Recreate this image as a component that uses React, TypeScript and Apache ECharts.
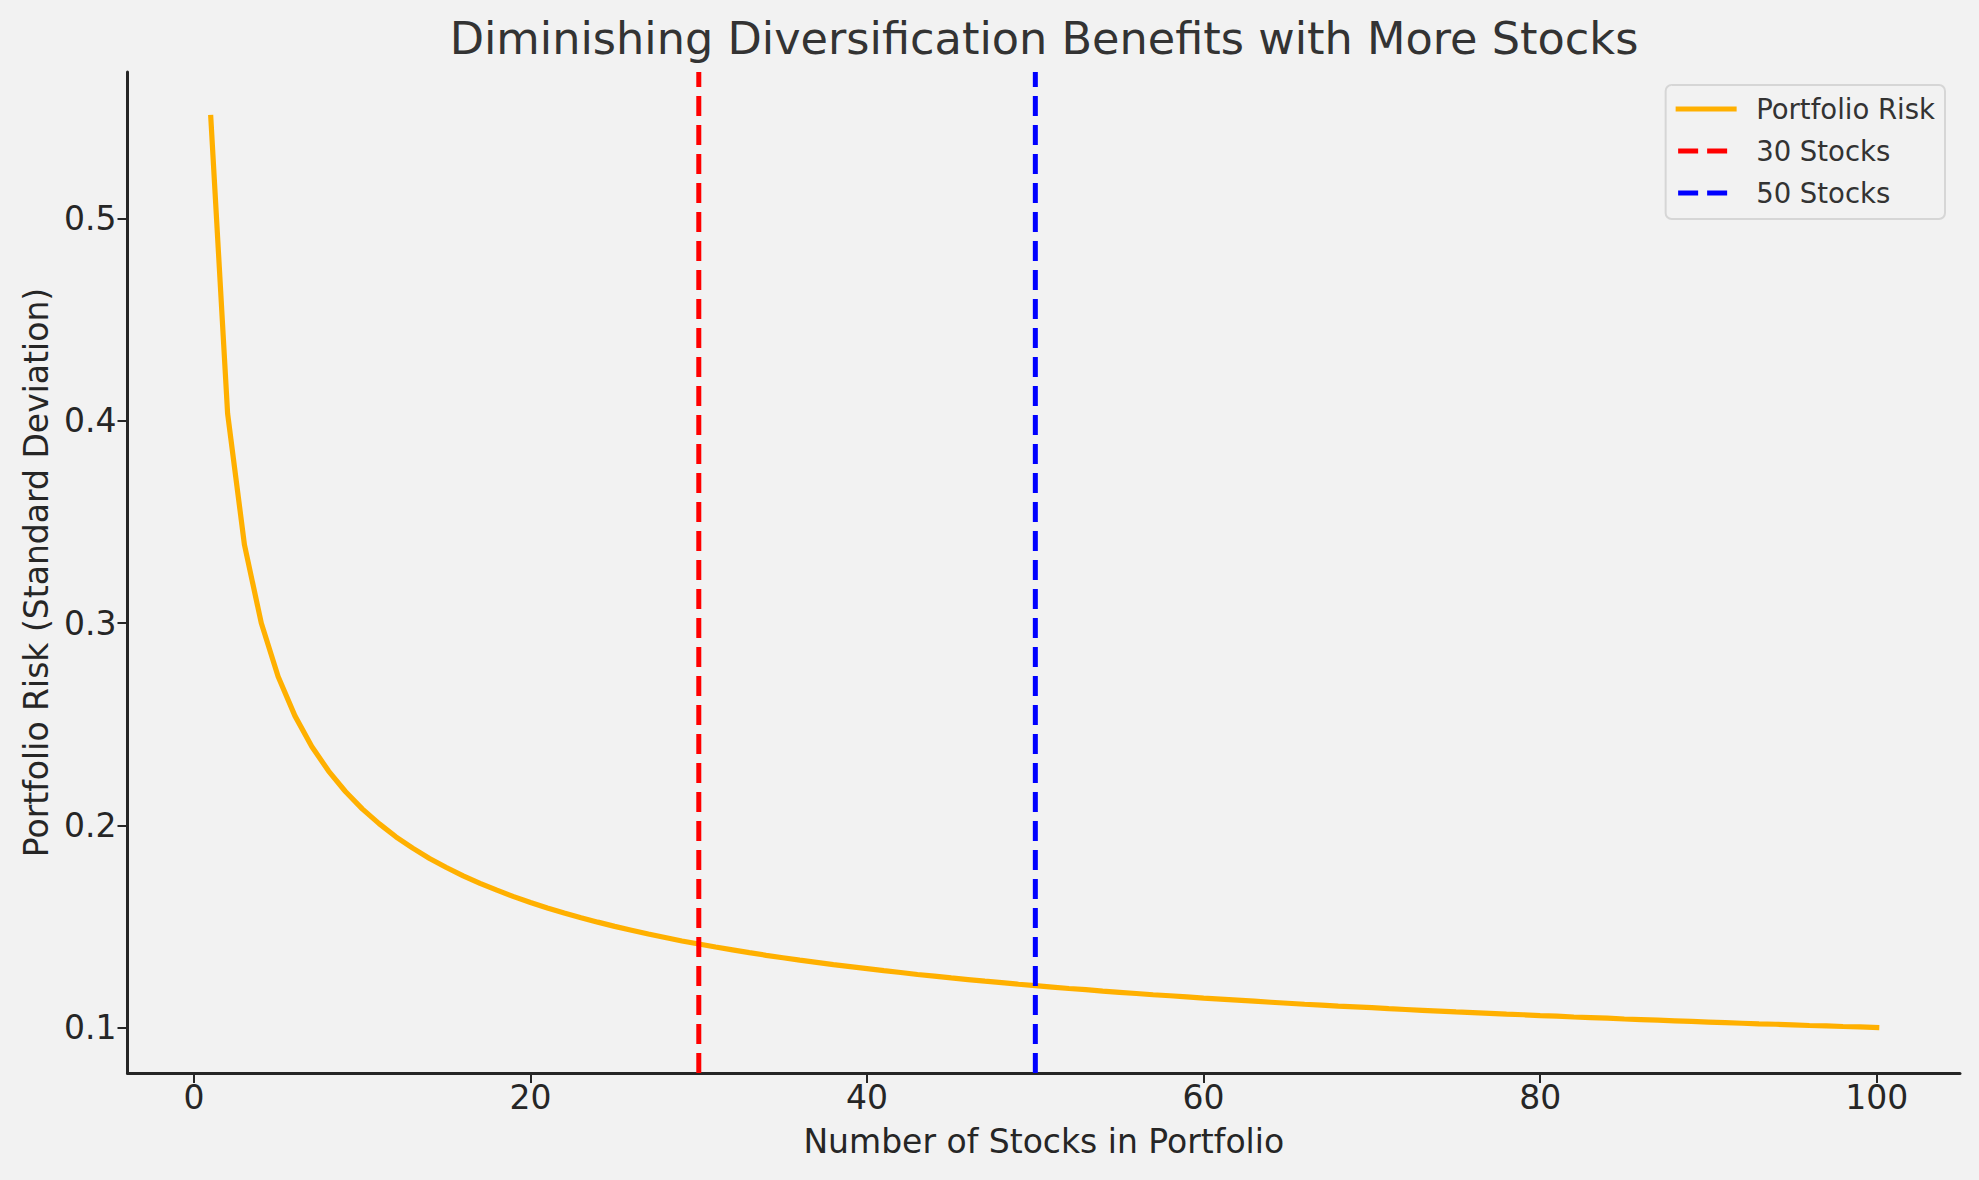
import React, { useEffect, useRef } from "react";
import * as echarts from "echarts";

const numStocks = [
  1, 2, 3, 4, 5, 6, 7, 8, 9, 10, 11, 12, 13, 14, 15, 16, 17, 18, 19, 20,
  21, 22, 23, 24, 25, 26, 27, 28, 29, 30, 31, 32, 33, 34, 35, 36, 37, 38, 39, 40,
  41, 42, 43, 44, 45, 46, 47, 48, 49, 50, 51, 52, 53, 54, 55, 56, 57, 58, 59, 60,
  61, 62, 63, 64, 65, 66, 67, 68, 69, 70, 71, 72, 73, 74, 75, 76, 77, 78, 79, 80,
  81, 82, 83, 84, 85, 86, 87, 88, 89, 90, 91, 92, 93, 94, 95, 96, 97, 98, 99, 100,
];

const portfolioRisk = [
  0.55, 0.4036, 0.3387, 0.3, 0.2736, 0.2541, 0.239, 0.2268, 0.2167, 0.2081,
  0.2008, 0.1943, 0.1887, 0.1836, 0.1791, 0.175, 0.1713, 0.1679, 0.1647, 0.1618,
  0.1591, 0.1566, 0.1543, 0.1521, 0.15, 0.1481, 0.1462, 0.1445, 0.1428, 0.1413,
  0.1398, 0.1384, 0.137, 0.1357, 0.1345, 0.1333, 0.1322, 0.1311, 0.1301, 0.1291,
  0.1281, 0.1272, 0.1262, 0.1254, 0.1245, 0.1237, 0.1229, 0.1222, 0.1214, 0.1207,
  0.12, 0.1193, 0.1187, 0.118, 0.1174, 0.1168, 0.1162, 0.1157, 0.1151, 0.1145,
  0.114, 0.1135, 0.113, 0.1125, 0.112, 0.1115, 0.1111, 0.1106, 0.1102, 0.1098,
  0.1093, 0.1089, 0.1085, 0.1081, 0.1077, 0.1074, 0.107, 0.1066, 0.1063, 0.1059,
  0.1056, 0.1052, 0.1049, 0.1046, 0.1042, 0.1039, 0.1036, 0.1033, 0.103, 0.1027,
  0.1024, 0.1021, 0.1018, 0.1016, 0.1013, 0.101, 0.1008, 0.1005, 0.1003, 0.1,
];

const thresholdStocks = [30, 50];
const thresholdNames = ["30 Stocks", "50 Stocks"];
const thresholdColors = ["#ff0000", "#0000ff"];

const xTickValues = [0, 20, 40, 60, 80, 100];
const yTickValues = [0.1, 0.2, 0.3, 0.4, 0.5];

const X_MIN = -3.95;
const X_MAX = 104.95;
const Y_MIN = 0.0775;
const Y_MAX = 0.5725;

const FONT = "DejaVu Sans";
const AXIS_COLOR = "#262626";

export default function App() {
  const ref = useRef<HTMLDivElement>(null);

  useEffect(() => {
    document.body.style.margin = "0";
    document.body.style.background = "#f2f2f2";
    if (!ref.current) return;
    const chart = echarts.init(ref.current, null, { renderer: "svg" });

    const riskData = numStocks.map((n, i) => [n, portfolioRisk[i]]);

    const thresholdSeries = thresholdStocks.map((s, i) => ({
      type: "line",
      name: thresholdNames[i],
      data: [
        [s, Y_MIN],
        [s, Y_MAX],
      ],
      symbol: "none",
      silent: true,
      lineStyle: { color: thresholdColors[i], width: 5, type: [20, 9] },
      itemStyle: { color: thresholdColors[i] },
    }));

    chart.setOption({
      animation: false,
      backgroundColor: "#f2f2f2",
      textStyle: { fontFamily: FONT },
      title: {
        text: "Diminishing Diversification Benefits with More Stocks",
        left: 1044,
        textAlign: "center",
        top: 16,
        padding: 0,
        textStyle: {
          fontFamily: FONT,
          fontSize: 44.6,
          fontWeight: "normal",
          color: "#333333",
        },
      },
      legend: {
        orient: "vertical",
        right: 34,
        top: 85,
        padding: [10, 10, 12, 10],
        itemGap: 14,
        itemWidth: 56,
        itemHeight: 14,
        backgroundColor: "#f2f2f2",
        borderColor: "#d6d6d6",
        borderWidth: 2,
        borderRadius: 6,
        itemStyle: { opacity: 0 },
        lineStyle: { width: 5 },
        textStyle: {
          fontFamily: FONT,
          fontSize: 27.5,
          color: "#333333",
          padding: [0, 0, 0, 17],
        },
        data: ["Portfolio Risk", ...thresholdNames],
      },
      grid: {
        left: 127.5,
        right: 19,
        top: 72,
        bottom: 107,
        containLabel: false,
      },
      xAxis: {
        type: "value",
        min: X_MIN,
        max: X_MAX,
        name: "Number of Stocks in Portfolio",
        nameLocation: "middle",
        nameGap: 52,
        nameTextStyle: { fontFamily: FONT, fontSize: 33, color: AXIS_COLOR },
        splitLine: { show: false },
        axisLine: {
          show: true,
          onZero: false,
          lineStyle: { color: AXIS_COLOR, width: 3 },
        },
        axisTick: {
          show: true,
          length: 10,
          lineStyle: { color: AXIS_COLOR, width: 2 },
          customValues: xTickValues,
        },
        axisLabel: {
          fontFamily: FONT,
          fontSize: 33,
          color: AXIS_COLOR,
          margin: 8,
          customValues: xTickValues,
          formatter: (v: number) => String(v),
        },
      },
      yAxis: {
        type: "value",
        min: Y_MIN,
        max: Y_MAX,
        name: "Portfolio Risk (Standard Deviation)",
        nameLocation: "middle",
        nameGap: 75,
        nameTextStyle: { fontFamily: FONT, fontSize: 33, color: AXIS_COLOR },
        splitLine: { show: false },
        axisLine: {
          show: true,
          onZero: false,
          lineStyle: { color: AXIS_COLOR, width: 3 },
        },
        axisTick: {
          show: true,
          length: 10,
          lineStyle: { color: AXIS_COLOR, width: 2 },
          customValues: yTickValues,
        },
        axisLabel: {
          fontFamily: FONT,
          fontSize: 33,
          color: AXIS_COLOR,
          margin: 11,
          customValues: yTickValues,
          formatter: (v: number) => v.toFixed(1),
        },
      },
      series: [
        {
          type: "line",
          name: "Portfolio Risk",
          data: riskData,
          symbol: "none",
          silent: true,
          lineStyle: { color: "#ffb000", width: 5.2, cap: "square" },
          itemStyle: { color: "#ffb000" },
        },
        ...thresholdSeries,
      ],
    });

    return () => chart.dispose();
  }, []);

  return <div ref={ref} style={{ width: 1979, height: 1180 }} />;
}
